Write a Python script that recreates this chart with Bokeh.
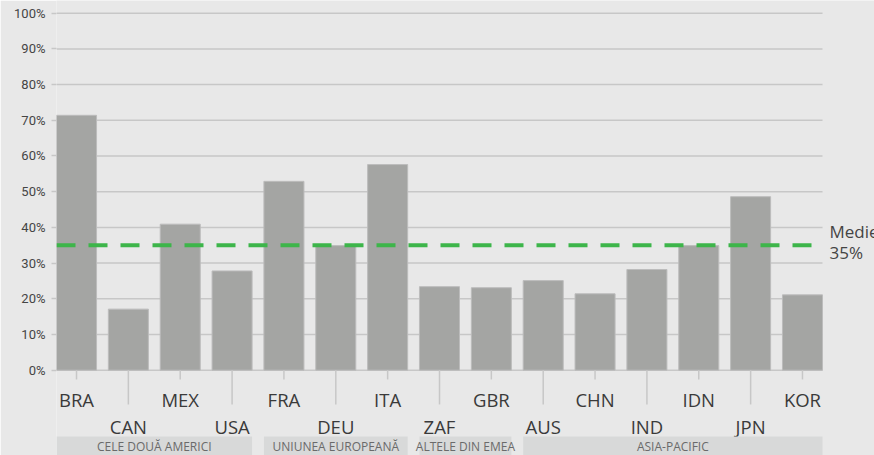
from bokeh.plotting import figure
from bokeh.models import Range1d, FixedTicker, PrintfTickFormatter, ColumnDataSource
from bokeh.core.properties import value
from bokeh.embed import file_html
from bokeh.resources import INLINE

# ---------------- data ----------------
countries = ["BRA", "CAN", "MEX", "USA", "FRA", "DEU", "ITA", "ZAF",
             "GBR", "AUS", "CHN", "IND", "IDN", "JPN", "KOR"]
shares = [71.4, 17.1, 40.9, 27.8, 52.9, 34.9, 57.6, 23.4,
          23.1, 25.1, 21.4, 28.2, 34.9, 48.6, 21.1]
groups = ["CELE DOUĂ AMERICI", "UNIUNEA EUROPEANĂ", "ALTELE DIN EMEA", "ASIA-PACIFIC"]
group_sizes = [4, 3, 2, 6]
average = 35
average_label = ["Medie", "35%"]
y_ticks = list(range(0, 101, 10))

# ---------------- style ----------------
BG = "#e8e8e8"
BAR = "#a4a5a3"
BAR_EDGE = "#bcbcbc"
GRID = "#c7c7c7"
GREEN = "#3db54a"
BAND = "#d8d9d9"
FONT = "Open Sans"
HALF = 0.386

n = len(countries)
xs = list(range(n))
x_end = n - 1 + HALF

p = figure(width=874, height=455, output_backend="svg", toolbar_location=None,
           x_range=Range1d(-HALF, 15.389), y_range=Range1d(-23.9, 103.56),
           x_axis_type=None, frame_width=818, frame_height=455,
           min_border_left=56, min_border_right=0, min_border_top=0, min_border_bottom=0)
p.background_fill_color = BG
p.border_fill_color = BG
p.outline_line_color = None
p.xgrid.visible = False
p.ygrid.visible = False

ax = p.yaxis[0]
ax.ticker = FixedTicker(ticks=y_ticks)
ax.formatter = PrintfTickFormatter(format="%d%%")
ax.axis_line_color = None
ax.major_tick_line_color = GRID
ax.major_tick_line_width = 1.5
ax.major_tick_out = 5
ax.major_tick_in = 0
ax.minor_tick_line_color = None
ax.major_label_standoff = 6
ax.major_label_text_font = "Roboto"
ax.major_label_text_font_size = "13px"
ax.major_label_text_color = "#454545"

# horizontal grid lines (only across the bar area)
p.segment(x0=[-HALF] * len(y_ticks), x1=[x_end] * len(y_ticks), y0=y_ticks, y1=y_ticks,
          line_color=GRID, line_width=1.5)

# bars
p.vbar(x=xs, top=shares, bottom=0, width=2 * HALF, fill_color=BAR,
       line_color=BAR_EDGE, line_width=1)

# average line
p.segment(x0=[-HALF], x1=[x_end], y0=[average], y1=[average],
          line_color=GREEN, line_width=4, line_dash="19 13")

# category ticks and staggered labels
even = [i for i in xs if i % 2 == 0]
odd = [i for i in xs if i % 2 == 1]
p.segment(x0=even, x1=even, y0=[0] * len(even), y1=[-2.6] * len(even),
          line_color=GRID, line_width=1.5)
p.segment(x0=odd, x1=odd, y0=[0] * len(odd), y1=[-9.6] * len(odd),
          line_color=GRID, line_width=1.5)
lab_src = ColumnDataSource(dict(
    x=xs, y=[-8.2 if i % 2 == 0 else -15.8 for i in xs], t=countries))
p.text(x="x", y="y", text="t", source=lab_src, text_font=value(FONT),
       text_font_size="18.5px", text_align="center", text_baseline="alphabetic",
       text_color="#3a3a3a")

# group bands
lefts, rights, centers = [], [], []
start = 0
for size in group_sizes:
    l = start - HALF
    r = start + size - 1 + HALF
    lefts.append(l)
    rights.append(r)
    centers.append((l + r) / 2)
    start += size
p.quad(left=lefts, right=rights, top=[-18.58] * len(groups), bottom=[-30] * len(groups),
       fill_color=BAND, line_color=None)
p.text(x=centers, y=[-21.46] * len(groups), text=groups, text_font=value(FONT),
       text_font_size="12px", text_align="center", text_baseline="middle",
       text_color="#6a6a6a")

# average label on the right
p.text(x=[14.521] * 2, y=[38.85, 33.1], text=average_label, text_font=value(FONT),
       text_font_size="17px", text_color="#444444",
       text_baseline="alphabetic", text_align="left")

open("out.html", "w").write(file_html(p, INLINE))
